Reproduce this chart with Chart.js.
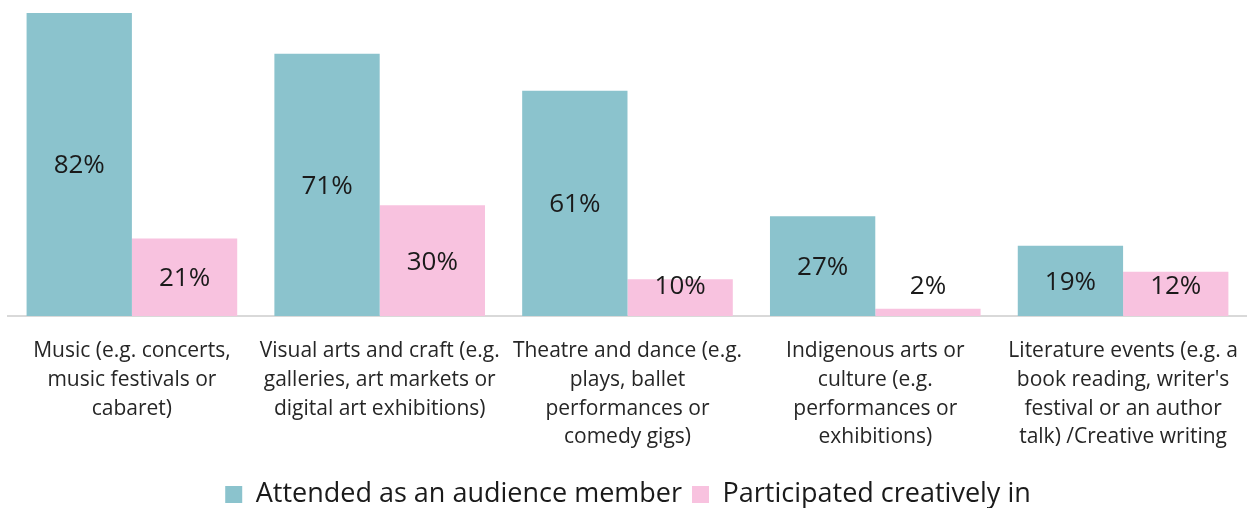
<!DOCTYPE html>
<html>
<head>
<meta charset="utf-8">
<script src="https://cdn.jsdelivr.net/npm/chart.js@4"></script>
<style>
html,body{margin:0;padding:0;background:#fff;}
#wrap{width:1250px;height:508px;}
</style>
</head>
<body>
<div id="wrap"><canvas id="c" width="1250" height="508"></canvas></div>
<script>
const categories = [
  ["Music (e.g. concerts,", "music festivals or", "cabaret)"],
  ["Visual arts and craft (e.g.", "galleries, art markets or", "digital art exhibitions)"],
  ["Theatre and dance (e.g.", "plays, ballet", "performances or", "comedy gigs)"],
  ["Indigenous arts or", "culture (e.g.", "performances or", "exhibitions)"],
  ["Literature events (e.g. a", "book reading, writer's", "festival or an author", "talk) /Creative writing"]
];
const seriesNames = ["Attended as an audience member", "Participated creatively in"];
const attended = [0.82, 0.71, 0.61, 0.27, 0.19];
const participated = [0.21, 0.30, 0.10, 0.02, 0.12];

const FONT = "'Open Sans', sans-serif";

const labelPlugin = {
  id: 'valueLabels',
  afterDatasetsDraw(chart) {
    const ctx = chart.ctx;
    const base = chart.scales.y.getPixelForValue(0);
    ctx.save();
    ctx.font = "26px " + FONT;
    ctx.fillStyle = "#1a1a1a";
    ctx.textAlign = "center";
    ctx.textBaseline = "middle";
    chart.data.datasets.forEach((ds, i) => {
      const meta = chart.getDatasetMeta(i);
      meta.data.forEach((bar, j) => {
        const v = ds.data[j];
        let y = (bar.y + base) / 2 + 1.5;
        y = Math.min(y, base - 29);
        ctx.fillText(Math.round(v * 100) + "%", bar.x, y);
      });
    });
    ctx.restore();
  }
};

new Chart(document.getElementById('c'), {
  type: 'bar',
  data: {
    labels: categories,
    datasets: [
      { label: seriesNames[0], data: attended, backgroundColor: '#8BC3CD', borderWidth: 0 },
      { label: seriesNames[1], data: participated, backgroundColor: '#F8C2DF', borderWidth: 0 }
    ]
  },
  options: {
    responsive: false,
    animation: false,
    devicePixelRatio: 1,
    layout: { padding: { left: 8, right: 2, top: 2, bottom: -10 } },
    datasets: { bar: { categoryPercentage: 0.85, barPercentage: 1.0 } },
    scales: {
      x: {
        grid: { display: false },
        border: { display: true, color: '#d9d9d9', width: 2 },
        ticks: {
          color: '#262626',
          font: { family: FONT, size: 21, lineHeight: 1.38 },
          maxRotation: 0, autoSkip: false, padding: 12
        },
        afterFit(scale) { scale.height += 7; }
      },
      y: {
        display: false,
        min: 0, max: 0.85
      }
    },
    plugins: {
      legend: {
        position: 'bottom',
        labels: {
          color: '#1a1a1a',
          font: { family: FONT, size: 27 },
          boxWidth: 17, boxHeight: 17, padding: 10
        }
      },
      tooltip: { enabled: false }
    }
  },
  plugins: [labelPlugin]
});
</script>
</body>
</html>
